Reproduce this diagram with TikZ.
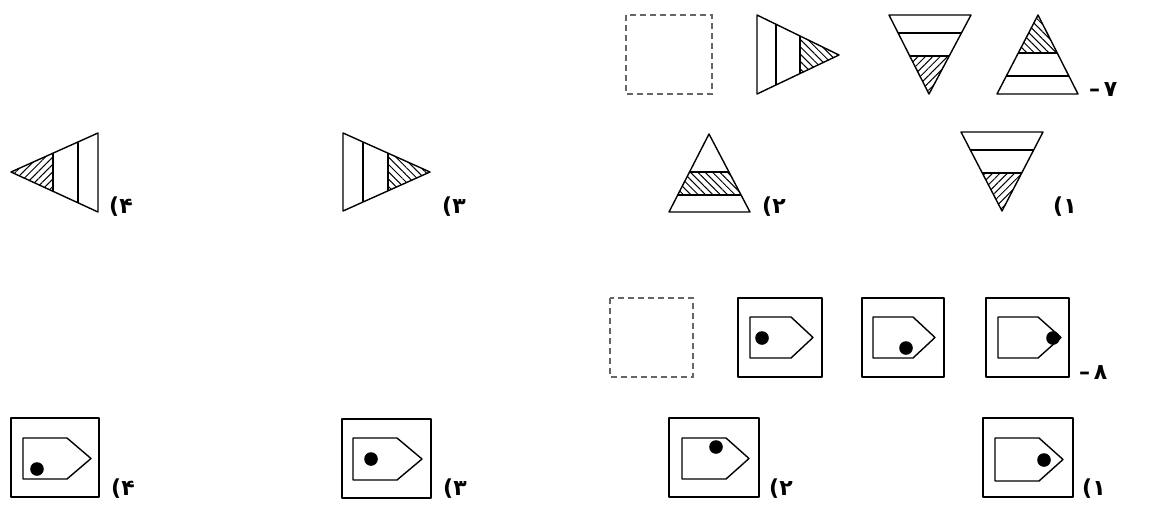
\documentclass[tikz,border=0pt]{standalone}
\usepackage{fontspec}
\usetikzlibrary{patterns.meta}
\TeXXeTstate=1
\newfontfamily\arabicfont[Script=Arabic]{DejaVu Sans}
\tikzset{
  ln/.style={line width=1.4pt, line join=round},
  dsq/.style={line width=1.2pt, dash pattern=on 6pt off 4pt, gray!80!black},
  hatchA/.style={pattern={Lines[angle=45,distance=5.2pt,line width=1pt]}},
  hatchB/.style={pattern={Lines[angle=-45,distance=5.2pt,line width=1pt]}},
  lab/.style={font=\arabicfont\bfseries\fontsize{22}{22}\selectfont, inner sep=0pt, anchor=west},
  dot/.style={fill=black}
}
\begin{document}
\begin{tikzpicture}[x=1pt,y=-1pt]
\useasboundingbox (0,0) rectangle (1157,504);

% ---------- Question 7 ----------
\draw[dsq] (626,15) rectangle (712,94);
% right-pointing triangle
\begin{scope}
  \clip (757,15) -- (839,55) -- (757,94) -- cycle;
  \fill[hatchB] (800,0) rectangle (850,110);
  \draw[ln] (776,0) -- (776,110) (800,0) -- (800,110);
\end{scope}
\draw[ln] (757,15) -- (839,55) -- (757,94) -- cycle;
% inverted triangle
\begin{scope}
  \clip (889,15) -- (971,15) -- (929,94) -- cycle;
  \fill[hatchA] (880,56) rectangle (980,100);
  \draw[ln] (880,33) -- (980,33) (880,56) -- (980,56);
\end{scope}
\draw[ln] (889,15) -- (971,15) -- (929,94) -- cycle;
% upright triangle
\begin{scope}
  \clip (1038,15) -- (1078,94) -- (997,94) -- cycle;
  \fill[hatchB] (990,10) rectangle (1090,53);
  \draw[ln] (990,53) -- (1090,53) (990,76) -- (1090,76);
\end{scope}
\draw[ln] (1038,15) -- (1078,94) -- (997,94) -- cycle;
\node[lab] (q7) at (1089,90) {\beginR ۷\,–\endR};

% options row 1
% 4) left-pointing
\begin{scope}
  \clip (98,133) -- (98,212) -- (11,172) -- cycle;
  \fill[hatchA] (0,120) rectangle (53,220);
  \draw[ln] (53,120) -- (53,220) (78,120) -- (78,220);
\end{scope}
\draw[ln] (98,133) -- (98,212) -- (11,172) -- cycle;
\node[lab] (o74) at (109,207) {\beginR ۴)\endR};
% 3) right-pointing
\begin{scope}
  \clip (343,133) -- (430,172) -- (343,211) -- cycle;
  \fill[hatchB] (388,120) rectangle (440,220);
  \draw[ln] (363,120) -- (363,220) (388,120) -- (388,220);
\end{scope}
\draw[ln] (343,133) -- (430,172) -- (343,211) -- cycle;
\node[lab] (o73) at (442,207) {\beginR ۳)\endR};
% 2) upright
\begin{scope}
  \clip (709,134) -- (750,212) -- (669,212) -- cycle;
  \fill[hatchB] (660,172) rectangle (760,195);
  \draw[ln] (660,172) -- (760,172) (660,195) -- (760,195);
\end{scope}
\draw[ln] (709,134) -- (750,212) -- (669,212) -- cycle;
\node[lab] (o72) at (762,207) {\beginR ۲)\endR};
% 1) inverted
\begin{scope}
  \clip (961,132) -- (1043,132) -- (1002,211) -- cycle;
  \fill[hatchA] (950,173) rectangle (1050,215);
  \draw[ln] (950,150) -- (1050,150) (950,173) -- (1050,173);
\end{scope}
\draw[ln] (961,132) -- (1043,132) -- (1002,211) -- cycle;
\node[lab] (o71) at (1053,207) {\beginR ۱)\endR};

% ---------- Question 8 ----------
\draw[dsq] (610,298) rectangle (693,377);
% box A
\draw[ln] (738,298) rectangle (822,377);
\draw[ln] (750,317) -- (791,317) -- (813,337.5) -- (791,358) -- (750,358) -- cycle;
\fill[dot] (762,338) circle (6.8);
% box B
\draw[ln] (862,298) rectangle (944,377);
\draw[ln] (873,317) -- (913,317) -- (935,337.5) -- (913,358) -- (873,358) -- cycle;
\fill[dot] (906,348) circle (6.8);
% box C
\draw[ln] (986,298) rectangle (1069,377);
\draw[ln] (998,317) -- (1038,317) -- (1061,337.5) -- (1038,358) -- (998,358) -- cycle;
\fill[dot] (1053,338) circle (6.8);
\node[lab] (q8) at (1079,373) {\beginR ۸\,–\endR};

% options row 2
\draw[ln] (11,418) rectangle (99,497);
\draw[ln] (23,438) -- (67,438) -- (91,458.5) -- (67,479) -- (23,479) -- cycle;
\fill[dot] (37,469) circle (6.8);
\node[lab] (o84) at (111,489) {\beginR ۴)\endR};

\draw[ln] (342,419) rectangle (431,498);
\draw[ln] (353,438) -- (397,438) -- (422,459) -- (397,480) -- (353,480) -- cycle;
\fill[dot] (371,459) circle (6.8);
\node[lab] (o83) at (443,489) {\beginR ۳)\endR};

\draw[ln, line width=1.7pt] (669,418) rectangle (759,497);
\draw[ln] (682,438) -- (726,438) -- (749,458.5) -- (726,479) -- (682,479) -- cycle;
\fill[dot] (716,447) circle (6.8);
\node[lab] (o82) at (769,489) {\beginR ۲)\endR};

\draw[ln] (983,418) rectangle (1073,497);
\draw[ln] (995,438) -- (1039,438) -- (1063,459.5) -- (1039,481) -- (995,481) -- cycle;
\fill[dot] (1044,460) circle (6.8);
\node[lab] (o81) at (1082,489) {\beginR ۱)\endR};
\end{tikzpicture}
\end{document}
